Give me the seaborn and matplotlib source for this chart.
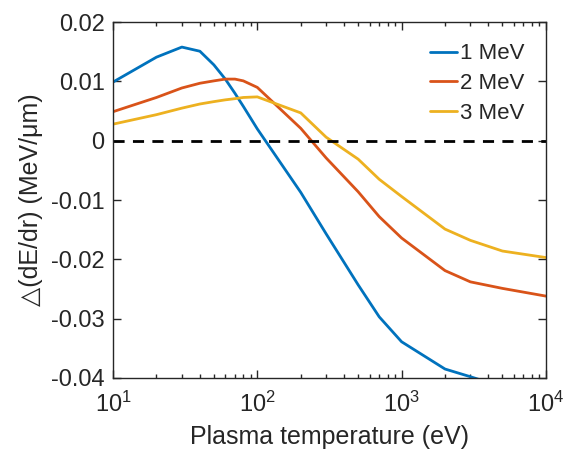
import numpy as np
import pandas as pd
import matplotlib
matplotlib.use("Agg")
import matplotlib.pyplot as plt
import seaborn as sns
from matplotlib.ticker import FixedLocator, FuncFormatter, LogLocator

# temperatures (eV) and energy-loss differences
temps = [10, 20, 30, 40, 50, 60, 70, 80, 100, 200, 300, 500, 700, 1000, 2000, 3000, 5000, 10000]
mev1 = [0.0099, 0.0141, 0.0158, 0.0151, 0.0128, 0.0104, 0.0080, 0.0058, 0.0020, -0.0087, -0.0157,
        -0.0243, -0.0297, -0.0339, -0.0385, -0.0398, -0.0415, -0.0430]
mev2 = [0.0049, 0.0073, 0.0089, 0.0097, 0.0101, 0.0104, 0.0104, 0.0101, 0.0090, 0.0021, -0.0029,
        -0.0086, -0.0128, -0.0164, -0.0219, -0.0238, -0.0249, -0.0262]
mev3 = [0.0028, 0.0044, 0.0055, 0.0062, 0.0066, 0.0069, 0.0071, 0.0073, 0.0074, 0.0047, 0.0006,
        -0.0031, -0.0065, -0.0094, -0.0149, -0.0168, -0.0186, -0.0197]
labels = ["1 MeV", "2 MeV", "3 MeV"]
colors = ["#0072BD", "#D95319", "#EDB120"]

sns.set_style("ticks")
plt.rcParams['font.family'] = ['Liberation Sans', 'DejaVu Sans']

df = pd.DataFrame({"T": temps * 3,
                   "val": mev1 + mev2 + mev3,
                   "energy": np.repeat(labels, len(temps))})

fig = plt.figure(figsize=(5.68, 4.62), dpi=100)
ax = fig.add_axes([0.199, 0.182, 0.762, 0.770])

sns.lineplot(data=df, x="T", y="val", hue="energy", palette=colors, linewidth=2, ax=ax)
ax.axhline(0, color="black", linestyle=(0, (4, 3)), linewidth=2)

ax.set_xscale("log")
ax.set_xlim(10, 1e4)
ax.set_ylim(-0.04, 0.02)
ax.yaxis.set_major_locator(FixedLocator([-0.04, -0.03, -0.02, -0.01, 0, 0.01, 0.02]))
ax.yaxis.set_major_formatter(FuncFormatter(lambda v, p: "0" if abs(v) < 1e-9 else f"{v:.2f}"))
ax.xaxis.set_major_locator(LogLocator(base=10, numticks=10))
ax.xaxis.set_minor_locator(LogLocator(base=10, subs=np.arange(2, 10), numticks=10))

ax.tick_params(which="both", direction="in", top=True, right=True, labelsize=17, width=1, color="#262626")
ax.tick_params(which="major", length=6)
ax.tick_params(which="minor", length=3)
ax.tick_params(axis="x", which="major", pad=10)
ax.tick_params(axis="y", which="major", pad=6)
for s in ax.spines.values():
    s.set_color("#262626")
    s.set_linewidth(1)

ax.set_xlabel("Plasma temperature (eV)", fontsize=18, labelpad=6)
ax.set_ylabel("△(dE/dr) (MeV/μm)", fontsize=18, labelpad=6)

ax.legend(loc="upper right", frameon=False, fontsize=16, handlelength=1.2, handletextpad=0.15,
          labelspacing=0.4, borderaxespad=0.55)

fig.savefig("out.png", dpi=100)
